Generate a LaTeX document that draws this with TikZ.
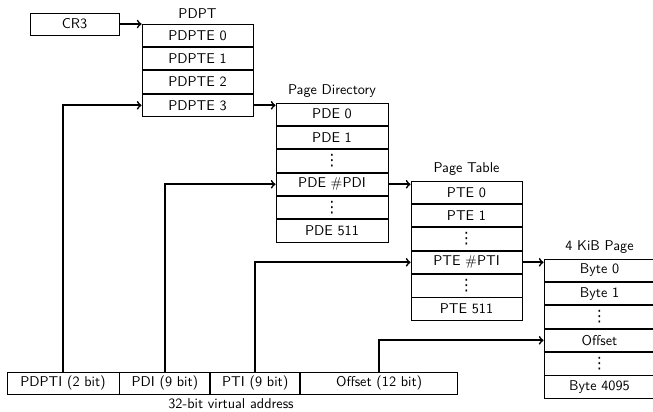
\documentclass[tikz,border=0pt]{standalone}
\usepackage{fontspec}
\newfontfamily\dotsfont{DejaVu Sans}
\usetikzlibrary{positioning}
\newcommand\rowdots{{\dotsfont\fontsize{11pt}{11pt}\selectfont ⋮}}
\tikzset{
  entry/.style={draw, line width=0.6pt, minimum width=78.2pt, minimum height=15.85pt, inner sep=0pt},
  field/.style={draw, line width=0.6pt, minimum height=15.5pt, inner sep=0pt},
  ptr/.style={->, line width=1.2pt},
}
\begin{document}
\begin{tikzpicture}[x=0.7043pt,y=-0.7043pt,font=\sffamily]
  \useasboundingbox (0,0) rectangle (653,411);
  % control register
  \node[field, minimum width=62.7pt] (cr3) at (74.5,24) {CR3};
  % page directory pointer table
  \node[entry] (pdpte0) at (197.5,35.25) {PDPTE 0};
  \node[entry, below=0pt of pdpte0] (pdpte1) {PDPTE 1};
  \node[entry, below=0pt of pdpte1] (pdpte2) {PDPTE 2};
  \node[entry, below=0pt of pdpte2] (pdpte3) {PDPTE 3};
  \node[above] (pdptname) at (pdpte0.north) {PDPT};
  % page directory
  \node[entry, minimum width=78.9pt] (pde0) at (332,114.2) {PDE 0};
  \node[entry, minimum width=78.9pt, below=0pt of pde0] (pde1) {PDE 1};
  \node[entry, minimum width=78.9pt, below=0pt of pde1] (pdedotsa) {\rowdots};
  \node[entry, minimum width=78.9pt, below=0pt of pdedotsa] (pdepdi) {PDE \#PDI};
  \node[entry, minimum width=78.9pt, below=0pt of pdepdi] (pdedotsb) {\rowdots};
  \node[entry, minimum width=78.9pt, below=0pt of pdedotsb] (pde511) {PDE 511};
  \node[above] (pdname) at (pde0.north) {Page Directory};
  % page table
  \node[entry] (pte0) at (466.5,192.25) {PTE 0};
  \node[entry, below=0pt of pte0] (pte1) {PTE 1};
  \node[entry, below=0pt of pte1] (ptedotsa) {\rowdots};
  \node[entry, below=0pt of ptedotsa] (ptepti) {PTE \#PTI};
  \node[entry, below=0pt of ptepti] (ptedotsb) {\rowdots};
  \node[entry, below=0pt of ptedotsb] (pte511) {PTE 511};
  \node[above] (ptname) at (pte0.north) {Page Table};
  % 4 KiB page
  \node[entry] (byte0) at (599.5,270.25) {Byte 0};
  \node[entry, below=0pt of byte0] (byte1) {Byte 1};
  \node[entry, below=0pt of byte1] (bytedotsa) {\rowdots};
  \node[entry, below=0pt of bytedotsa] (byteoff) {Offset};
  \node[entry, below=0pt of byteoff] (bytedotsb) {\rowdots};
  \node[entry, below=0pt of bytedotsb] (byte4095) {Byte 4095};
  \node[above] (pagename) at (byte0.north) {4 KiB Page};
  % virtual address
  \node[field, minimum width=78.9pt] (pdpti) at (63,383) {PDPTI (2 bit)};
  \node[field, minimum width=63.4pt, right=0pt of pdpti] (pdi) {PDI (9 bit)};
  \node[field, minimum width=62.7pt, right=0pt of pdi] (pti) {PTI (9 bit)};
  \node[field, minimum width=110.6pt, right=0pt of pti] (offs) {Offset (12 bit)};
  \node[below] (vaddr) at (231,394) {32-bit virtual address};
  % pointers
  \draw[ptr] (cr3.east) -- (cr3.east -| pdpte0.west);
  \draw[ptr] (pdpte3.east) -- (pdpte3.east -| pde0.west);
  \draw[ptr] (pdepdi.east) -- (pdepdi.east -| pte0.west);
  \draw[ptr] (ptepti.east) -- (ptepti.east -| byte0.west);
  \draw[ptr] (pdpti.north) |- (pdpte3.west);
  \draw[ptr] (pdi.north) |- (pdepdi.west);
  \draw[ptr] (pti.north) |- (ptepti.west);
  \draw[ptr] (offs.north) |- (byteoff.west);
\end{tikzpicture}
\end{document}
